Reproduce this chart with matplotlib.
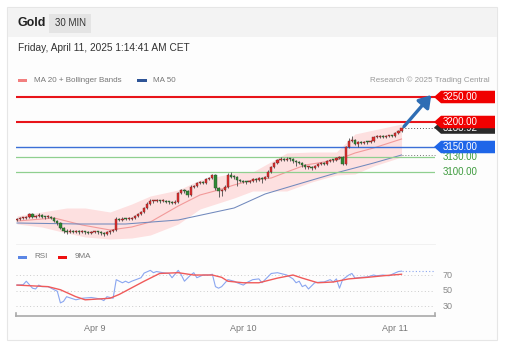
import matplotlib
matplotlib.use("Agg")
import matplotlib.pyplot as plt
import matplotlib.transforms as mtransforms
from matplotlib.patches import Polygon, Rectangle
import numpy as np

plt.rcParams['font.family'] = ['Liberation Sans', 'DejaVu Sans']

# ---------------- data ----------------
opens = [3004,3006,3008,3009,3011,3016,3011,3012,3015,3011,
         3010,3011,3009,3003,2998,2989,2983,2981,2983,2981,
         2982,2980,2981,2980,2979,2980,2981,2980,2979,2976,
         2980,2983,2984,3006,3005,3007,3006,3007,3009,3013,
         3016,3020,3028,3037,3042,3042,3043,3042,3043,3041,
         3040,3039,3041,3058,3064,3062,3055,3071,3072,3078,
         3080,3079,3086,3088,3094,3068,3062,3064,3071,3094,
         3091,3090,3084,3083,3081,3080,3082,3086,3084,3088,
         3086,3090,3101,3110,3118,3124,3126,3125,3127,3126,
         3122,3121,3119,3114,3110,3111,3108,3112,3116,3118,
         3117,3122,3125,3124,3128,3130,3117,3150,3162,3164,
         3157,3160,3159,3161,3160,3163,3170,3171,3172,3171,
         3172,3173,3172,3178,3182]
closes = [3006,3008,3009,3011,3016,3011,3012,3015,3011,3010,
          3011,3009,3003,2998,2989,2983,2981,2983,2981,2982,
          2980,2981,2980,2979,2980,2981,2980,2979,2976,2980,
          2983,2984,3006,3005,3007,3006,3007,3009,3013,3016,
          3020,3028,3037,3042,3042,3043,3042,3043,3041,3040,
          3039,3041,3058,3064,3062,3055,3071,3072,3078,3080,
          3079,3086,3088,3094,3068,3062,3064,3071,3094,3091,
          3090,3084,3083,3081,3080,3082,3086,3084,3088,3086,
          3090,3101,3110,3118,3124,3126,3125,3127,3126,3122,
          3121,3119,3114,3110,3111,3108,3112,3116,3118,3117,
          3122,3125,3124,3128,3130,3117,3150,3162,3164,3157,
          3160,3159,3161,3160,3163,3170,3171,3172,3171,3172,
          3173,3172,3178,3182,3189]
highs = [3009,3010,3011,3013,3019,3018,3015,3019,3017,3013,
         3014,3013,3011,3005,3000,2991,2986,2986,2985,2985,
         2984,2984,2983,2982,2983,2983,2983,2982,2981,2982,
         2985,2987,3010,3009,3010,3009,3010,3011,3015,3018,
         3023,3030,3040,3046,3045,3046,3045,3046,3045,3043,
         3042,3044,3061,3067,3066,3064,3074,3075,3081,3083,
         3082,3089,3091,3097,3096,3070,3067,3074,3098,3100,
         3094,3092,3087,3085,3083,3085,3088,3088,3090,3090,
         3093,3104,3113,3121,3127,3130,3128,3130,3129,3128,
         3124,3123,3121,3116,3113,3113,3114,3118,3120,3120,
         3124,3127,3127,3130,3133,3132,3153,3168,3172,3166,
         3162,3162,3163,3163,3165,3173,3174,3174,3174,3174,
         3175,3175,3180,3185,3191]
lows = [3002,3004,3006,3007,3009,3009,3009,3010,3009,3007,
        3008,3007,3001,2995,2986,2978,2977,2979,2978,2979,
        2977,2978,2977,2976,2977,2978,2977,2975,2972,2974,
        2977,2980,2982,3002,3003,3004,3004,3005,3007,3011,
        3014,3018,3026,3035,3039,3040,3039,3040,3038,3037,
        3036,3037,3039,3056,3059,3050,3053,3068,3070,3076,
        3076,3077,3084,3086,3064,3050,3052,3062,3069,3088,
        3087,3072,3080,3078,3077,3078,3080,3081,3082,3078,
        3084,3088,3099,3108,3116,3122,3122,3123,3123,3119,
        3112,3116,3111,3107,3107,3105,3106,3110,3114,3114,
        3115,3120,3121,3122,3126,3114,3115,3148,3160,3155,
        3150,3156,3157,3157,3158,3161,3168,3169,3168,3169,
        3170,3170,3170,3176,3180]

ma20_bar = [0, 12, 21, 30, 37, 43, 52, 59, 65, 70, 76, 82, 87, 93, 103, 109, 115, 124]
ma20_val = [3002, 3008, 2994, 2984, 2990, 3000, 3032, 3054, 3064, 3074, 3084, 3088,
            3100, 3114, 3124, 3138, 3148, 3166]
ma50_bar = [0, 20, 35, 52, 70, 80, 93, 104, 115, 124]
ma50_val = [2998, 2996, 2996, 3004, 3028, 3056, 3080, 3100, 3118, 3134]
bb_bar = [0, 8, 16, 22, 30, 37, 43, 52, 59, 70, 76, 87, 95, 103, 109, 115, 124]
bb_upper = [3012, 3020, 3028, 3028, 3020, 3036, 3052, 3064, 3084, 3098, 3100, 3138,
            3140, 3140, 3176, 3184, 3196]
bb_lower = [2996, 2990, 2978, 2970, 2966, 2968, 2974, 2996, 3026, 3048, 3062, 3062,
            3080, 3094, 3096, 3112, 3130]

rsi_bar = [0, 2, 3, 5, 6, 7, 8, 10, 11, 13, 14, 15, 16, 19, 21, 24, 27, 28, 29, 31,
           32, 34, 35, 36, 37, 40, 41, 43, 44, 45, 47, 49, 50, 52, 53, 54, 56, 57, 58,
           60, 62, 63, 64, 65, 66, 68, 70, 71, 73, 74, 76, 78, 79, 81, 82, 84, 85, 87,
           89, 90, 91, 92, 93, 94, 96, 98, 99, 101, 102, 103, 104, 105, 107, 108, 109,
           111, 113, 115, 116, 118, 120, 121, 123, 124]
rsi_val = [57, 57.5, 62, 53, 52, 57, 55, 55, 53, 49, 34, 36, 42, 38, 40, 41, 39, 37, 42, 40,
           64, 60, 62, 60, 62, 66.5, 72.5, 76, 73, 74.5, 73, 72, 66.5, 76, 70, 62, 70, 73, 66.5,
           70, 70, 71, 55, 53, 55, 64, 62, 60, 57, 60, 64, 65, 60, 68, 72, 73, 72, 70,
           65, 60, 62, 55, 57, 52, 60, 61, 61, 64, 61, 65, 53, 64, 70, 72, 66,
           67, 67.5, 70, 69, 70, 69, 71, 74.5, 75]
ma9_bar = [0, 10, 14, 19, 22, 30, 33, 41, 46, 52, 57, 63, 66, 68, 73, 78, 84, 89, 92,
           97, 102, 107, 113, 118, 124]
ma9_val = [57, 55, 51, 42, 38, 40, 45, 62, 72, 73, 70, 70, 67, 62, 60, 60, 66, 70, 66,
           60, 61, 65, 67, 69, 71]

levels_red = [3250.00, 3200.00]
level_blue = 3150.00
levels_green = [3130.00, 3100.00]
last_price = 3188.92
target_price = 3254
rsi_grid = [70, 50, 30]
day_ticks = [25.2, 73, 122]
day_labels = ["Apr 9", "Apr 10", "Apr 11"]

# ---------------- figure ----------------
W, H = 508, 351
fig = plt.figure(figsize=(W / 100, H / 100), dpi=100)
fig.patch.set_facecolor('white')

def fx(x):
    return x / W

def fy(y):
    return 1 - y / H

# card
fig.add_artist(Rectangle((fx(7), fy(340)), fx(490), (333) / H, transform=fig.transFigure,
                         facecolor='#fdfdfd', edgecolor='#e6e6e6', lw=0.8, zorder=0))
fig.add_artist(Rectangle((fx(7.5), fy(37)), fx(489), 29 / H, transform=fig.transFigure,
                         facecolor='#f3f3f3', edgecolor='none', zorder=0.5))
fig.text(fx(17), fy(22.5), "Gold", fontsize=9, fontweight='bold', color='#222', va='center')
fig.add_artist(Rectangle((fx(49), fy(33)), fx(42), 19 / H, transform=fig.transFigure,
                         facecolor='#e4e4e4', edgecolor='none', zorder=0.8))
fig.text(fx(55), fy(23), "30 MIN", fontsize=7, color='#333', va='center')
fig.text(fx(18), fy(48), "Friday, April 11, 2025 1:14:41 AM CET", fontsize=7.3,
         color='#333', va='center')

# legends
fig.add_artist(Rectangle((fx(18), fy(81.5)), fx(9), 3 / H, transform=fig.transFigure,
                         facecolor='#f27f7f', edgecolor='none'))
fig.text(fx(34), fy(80), "MA 20 + Bollinger Bands", fontsize=5.8, color='#777', va='center')
fig.add_artist(Rectangle((fx(137), fy(81.5)), fx(10), 3 / H, transform=fig.transFigure,
                         facecolor='#2f5597', edgecolor='none'))
fig.text(fx(153), fy(80), "MA 50", fontsize=5.8, color='#777', va='center')
fig.text(fx(490), fy(80), "Research \u00a9 2025 Trading Central", fontsize=5.8,
         color='#999', va='center', ha='right')

fig.add_artist(Rectangle((fx(18), fy(258.5)), fx(9), 3 / H, transform=fig.transFigure,
                         facecolor='#5b86e5', edgecolor='none'))
fig.text(fx(34), fy(257), "RSI", fontsize=5.8, color='#777', va='center')
fig.add_artist(Rectangle((fx(58), fy(258.5)), fx(9), 3 / H, transform=fig.transFigure,
                         facecolor='#ee1111', edgecolor='none'))
fig.text(fx(75), fy(257), "9MA", fontsize=5.8, color='#777', va='center')

# separator
fig.add_artist(plt.Line2D([fx(16), fx(435)], [fy(244), fy(244)], color='#efefef', lw=0.6))

# ---------------- main panel ----------------
ax = fig.add_axes([fx(16), fy(244), fx(419), 156 / H])
ax.set_xlim(-0.32, 134.8)
ax.set_ylim(2956, 3268)
ax.axis('off')

ax.fill_between(bb_bar, bb_lower, bb_upper, color='#fde0e0', lw=0, zorder=1)
ax.plot(ma20_bar, ma20_val, color='#f29a9a', lw=0.8, zorder=2)
ax.plot(ma50_bar, ma50_val, color='#7189bd', lw=0.75, zorder=2)

for lv in levels_red:
    ax.axhline(lv, color='#e8141a', lw=1.5, zorder=3)
ax.axhline(level_blue, color='#3b6fd6', lw=1.0, zorder=3)
for lv in levels_green:
    ax.axhline(lv, color='#8fcf8f', lw=0.9, zorder=3)

n = len(closes)
idx = np.arange(n)
o = np.array(opens); c = np.array(closes); h = np.array(highs); l = np.array(lows)
up = c >= o
ax.vlines(idx, l, h, color='#4a4a4a', lw=0.6, zorder=4)
body = np.maximum(np.abs(c - o), 1.2)
ax.bar(idx[up], body[up], bottom=o[up], width=0.72, color='#e32b2b',
       edgecolor='#6a2a2a', lw=0.3, zorder=5)
ax.bar(idx[~up], body[~up], bottom=c[~up], width=0.72, color='#2f8a35',
       edgecolor='#2a4a2a', lw=0.3, zorder=5)

ax.plot([n - 1, 134.8], [last_price, last_price], color='#555', lw=0.7, ls=(0, (1, 2)), zorder=4,
        clip_on=False)
ax.plot([ma50_bar[-1], 134.8], [ma50_val[-1], ma50_val[-1]], color='#777', lw=0.7,
        ls=(0, (1, 2)), zorder=4, clip_on=False)

ax.annotate("", xy=(133.6, target_price), xytext=(n - 0.2, last_price + 2),
            arrowprops=dict(arrowstyle='-|>,head_width=0.45,head_length=0.7', lw=2.4,
                            color='#2e6db4', mutation_scale=10, shrinkA=0, shrinkB=0),
            annotation_clip=False, zorder=6)

trans = mtransforms.blended_transform_factory(fig.transFigure, ax.transData)

def tag(level, color, text, zo):
    hh = 12.5
    pts = [(fx(434), level), (fx(441), level + hh), (fx(495), level + hh),
           (fx(495), level - hh), (fx(441), level - hh)]
    ax.add_patch(Polygon(pts, closed=True, transform=trans, facecolor=color,
                         edgecolor='none', clip_on=False, zorder=zo))
    ax.text(fx(443), level, text, transform=trans, color='white', fontsize=7,
            va='center', ha='left', clip_on=False, zorder=zo + 0.1)

tag(last_price, '#2a2a2a', f"{last_price:.2f}", 7)
tag(levels_red[1], '#f00000', f"{levels_red[1]:.2f}", 8)
tag(levels_red[0], '#f00000', f"{levels_red[0]:.2f}", 8)
tag(level_blue, '#1f66e8', f"{level_blue:.2f}", 8)
for lv in levels_green:
    ax.text(fx(443), lv, f"{lv:.2f}", transform=trans, color='#3e9b3e', fontsize=7,
            va='center', ha='left', clip_on=False)

# ---------------- RSI panel ----------------
ax2 = fig.add_axes([fx(16), fy(316), fx(419), 54 / H])
ax2.set_xlim(-0.32, 134.8)
ax2.set_ylim(17.1, 86.8)
for s in ['top', 'right', 'left']:
    ax2.spines[s].set_visible(False)
ax2.spines['bottom'].set_color('#aaaaaa')
ax2.spines['bottom'].set_linewidth(1.2)
ax2.set_yticks([])
ax2.set_facecolor('none')
t2 = mtransforms.blended_transform_factory(fig.transFigure, ax2.transData)
for g in rsi_grid:
    ax2.axhline(g, color='#cccccc', lw=0.7, ls=(0, (1, 2.5)), zorder=1)
    ax2.text(fx(443), g, str(g), transform=t2, fontsize=6.5, color='#888', va='center')
ax2.plot(rsi_bar, rsi_val, color='#8aa6f0', lw=0.8, zorder=3)
ax2.plot(ma9_bar, ma9_val, color='#f05a5a', lw=1.0, zorder=4)
ax2.plot([rsi_bar[-1], 134.8], [rsi_val[-1], rsi_val[-1]], color='#8aa6f0', lw=0.8,
         ls=(0, (1, 2)), zorder=3)
ax2.set_xticks(day_ticks)
ax2.set_xticklabels(day_labels)
ax2.tick_params(axis='x', length=0, labelsize=6.5, labelcolor='#777', pad=6)
for xe in [-0.32, 134.8]:
    ax2.plot([xe, xe], [17.1, 21.5], color='#aaaaaa', lw=1.2, clip_on=False)

fig.savefig("out.png", dpi=100)
